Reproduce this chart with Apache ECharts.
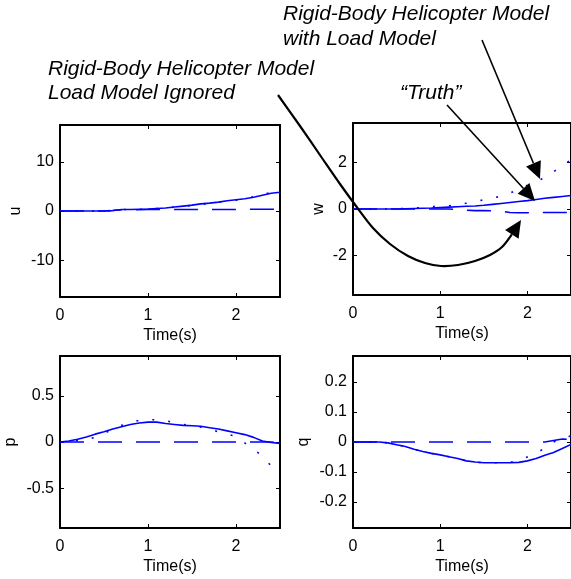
<!DOCTYPE html>
<html>
<head>
<meta charset="utf-8">
<script src="https://cdn.jsdelivr.net/npm/echarts@6/dist/echarts.min.js"></script>
<style>
html,body{margin:0;padding:0;background:#fff;}
#chart{width:571px;height:579px;}
</style>
</head>
<body>
<div id="chart"></div>
<script>
// ---- data ----
const time = [0,0.1,0.2,0.3,0.4,0.5,0.6,0.7,0.8,0.9,1.0,1.1,1.2,1.3,1.4,1.5,1.6,1.7,1.8,1.9,2.0,2.1,2.2,2.3,2.4,2.5];
const xTicks = [0,1,2];

const uTruth    = [0,0,0,0,0,0,0.1,0.3,0.3,0.35,0.4,0.5,0.6,0.8,1.0,1.2,1.45,1.6,1.8,2.1,2.3,2.5,2.8,3.2,3.6,3.8];
const uWithLoad = [0,0,0,0,0,0,0.1,0.3,0.3,0.35,0.4,0.5,0.6,0.8,0.95,1.1,1.3,1.55,1.8,2.0,2.2,2.5,2.9,3.3,3.8,4.0];
const uIgnored  = [0,0,0,0,0,0,0.1,0.25,0.25,0.25,0.3,0.3,0.3,0.3,0.3,0.3,0.3,0.3,0.3,0.3,0.3,0.35,0.35,0.35,0.35,0.35];
const uTicks = [-10,0,10];

const wTruth    = [0,0,0,0,0,0,0.01,0.02,0.03,0.04,0.06,0.08,0.1,0.12,0.13,0.16,0.2,0.24,0.28,0.32,0.36,0.41,0.46,0.5,0.54,0.58];
const wWithLoad = [0,0,0,0,0,0.01,0.02,0.04,0.07,0.1,0.12,0.14,0.17,0.25,0.32,0.4,0.47,0.55,0.68,0.86,1.02,1.18,1.35,1.6,1.88,2.1];
const wIgnored  = [0,0,0,0,0,0,0,0,0,0,0,0,-0.03,-0.05,-0.07,-0.07,-0.08,-0.1,-0.15,-0.16,-0.16,-0.16,-0.15,-0.15,-0.15,-0.15];
const wTicks = [-2,0,2];

const pTruth    = [0,0.01,0.03,0.055,0.085,0.11,0.14,0.165,0.19,0.205,0.215,0.215,0.2,0.19,0.18,0.175,0.17,0.155,0.14,0.12,0.1,0.08,0.05,0.01,-0.005,-0.015];
const pWithLoad = [0,0.005,0.015,0.03,0.05,0.09,0.14,0.18,0.21,0.235,0.24,0.24,0.23,0.21,0.19,0.175,0.16,0.14,0.11,0.085,0.06,-0.01,-0.08,-0.15,-0.26,-0.34];
const pIgnored  = [0,0,0,0,0,0,0,0,0,0,0,0,0,0,0,0,0,0,0,0,0,0,0,0,0,-0.01];
const pTicks = [-0.5,0,0.5];

const qTruth    = [0,0,0,0,-0.003,-0.009,-0.015,-0.024,-0.032,-0.038,-0.043,-0.049,-0.055,-0.063,-0.067,-0.069,-0.069,-0.069,-0.069,-0.068,-0.063,-0.055,-0.044,-0.035,-0.022,-0.008];
const qWithLoad = [0,0,0,0,-0.003,-0.009,-0.015,-0.024,-0.032,-0.038,-0.043,-0.049,-0.055,-0.063,-0.067,-0.069,-0.069,-0.069,-0.068,-0.062,-0.05,-0.038,-0.02,0.0,0.015,0.02];
const qIgnored  = [0,0,0,0,0,0,0,0,0,0,0,0,0,0,0,0,0,0,0,0,0,0,0,0.005,0.01,0.008];
const qTicks = [-0.2,-0.1,0,0.1,0.2];

const yNames = ['u','w','p','q'];
const xName = 'Time(s)';

// ---- layout ----
const FONT = 'Liberation Sans';
const FS = 16;
const grids = [
  {left:60, top:125, width:220, height:172},
  {left:353, top:123, width:220, height:172},
  {left:60, top:356, width:220, height:172},
  {left:353, top:356, width:220, height:172}
];
const yRanges = [[-17.5,17.5],[-3.7,3.7],[-0.93,0.93],[-0.287,0.287]];
const yTickSets = [uTicks,wTicks,pTicks,qTicks];
const yNameGaps = [36,26,41,41];
const seriesSets = [
  [uTruth,uWithLoad,uIgnored],
  [wTruth,wWithLoad,wIgnored],
  [pTruth,pWithLoad,pIgnored],
  [qTruth,qWithLoad,qIgnored]
];

const lineBase = {color:'#000', width:2};
const xAxes = [], yAxes = [], series = [];
for (let i=0;i<4;i++){
  xAxes.push({
    type:'value', gridIndex:i, position:'bottom', min:0, max:2.5,
    axisLine:{show:true, onZero:false, lineStyle:lineBase},
    axisTick:{show:true, inside:true, length:4, customValues:xTicks, lineStyle:{color:'#000',width:1}},
    axisLabel:{show:true, customValues:xTicks, margin:11, color:'#000', fontSize:FS, fontFamily:FONT},
    splitLine:{show:false},
    name:xName, nameLocation:'middle', nameGap:31,
    nameTextStyle:{color:'#000', fontSize:FS, fontFamily:FONT}
  });
  xAxes.push({
    type:'value', gridIndex:i, position:'top', min:0, max:2.5,
    axisLine:{show:true, onZero:false, lineStyle:lineBase},
    axisTick:{show:true, inside:true, length:4, customValues:xTicks, lineStyle:{color:'#000',width:1}},
    axisLabel:{show:false}, splitLine:{show:false}
  });
  yAxes.push({
    type:'value', gridIndex:i, position:'left', min:yRanges[i][0], max:yRanges[i][1],
    axisLine:{show:true, onZero:false, lineStyle:lineBase},
    axisTick:{show:true, inside:true, length:4, customValues:yTickSets[i], lineStyle:{color:'#000',width:1}},
    axisLabel:{show:true, customValues:yTickSets[i], margin:6, color:'#000', fontSize:FS, fontFamily:FONT},
    splitLine:{show:false},
    name:yNames[i], nameLocation:'middle', nameGap:yNameGaps[i], nameRotate:90,
    nameTextStyle:{color:'#000', fontSize:FS, fontFamily:FONT}
  });
  yAxes.push({
    type:'value', gridIndex:i, position:'right', min:yRanges[i][0], max:yRanges[i][1],
    axisLine:{show:true, onZero:false, lineStyle:lineBase},
    axisTick:{show:true, inside:true, length:4, customValues:yTickSets[i], lineStyle:{color:'#000',width:1}},
    axisLabel:{show:false}, splitLine:{show:false}
  });
  const styles = [
    {type:'solid'},
    {type:[2,14]},
    {type:[24,14]}
  ];
  const names = ['Truth','With Load Model','Load Model Ignored'];
  seriesSets[i].forEach((arr,k)=>{
    series.push({
      type:'line', name:names[k], xAxisIndex:2*i, yAxisIndex:2*i,
      data: time.map((t,j)=>[t,arr[j]]),
      showSymbol:false, symbol:'none', silent:true,
      lineStyle:Object.assign({color:'#0000ff', width:1.6}, styles[k]),
      z: 3-k
    });
  });
}

// ---- annotations ----
function arrowHead(from, tip, len, hw){
  const dx = tip[0]-from[0], dy = tip[1]-from[1];
  const L = Math.hypot(dx,dy); const ux=dx/L, uy=dy/L;
  const bx = tip[0]-len*ux, by = tip[1]-len*uy;
  return {base:[bx,by], pts:[tip,[bx-hw*uy, by+hw*ux],[bx+hw*uy, by-hw*ux]]};
}
const aFont = 'italic 21px "Liberation Sans"';
const truthArrow = arrowHead([447,105],[535,201],17,8);
const loadArrow = arrowHead([482,40],[540,179],17,8);
const curvePts = [[278,95],[300,126],[322,158],[340,184],[356,206],[373,228],[390,244],[408,256],[425,263],[441,266],[458,265],[475,261],[490,255],[502,247]];
const ignArrow = arrowHead([505,245],[521,220],17,8);
curvePts.push(ignArrow.base);

const graphic = [
  {type:'text', style:{text:'Rigid-Body Helicopter Model', x:283, y:14.5, font:aFont, fill:'#000', verticalAlign:'middle'}, z:100},
  {type:'text', style:{text:'with Load Model', x:283, y:39.5, font:aFont, fill:'#000', verticalAlign:'middle'}, z:100},
  {type:'text', style:{text:'Rigid-Body Helicopter Model', x:48, y:69.5, font:aFont, fill:'#000', verticalAlign:'middle'}, z:100},
  {type:'text', style:{text:'Load Model Ignored', x:48, y:93, font:aFont, fill:'#000', verticalAlign:'middle'}, z:100},
  {type:'text', style:{text:'\u201CTruth\u201D', x:400, y:93, font:aFont, fill:'#000', verticalAlign:'middle'}, z:100},
  {type:'line', shape:{x1:447,y1:105,x2:truthArrow.base[0],y2:truthArrow.base[1]}, style:{stroke:'#000', lineWidth:1.6}, z:100},
  {type:'polygon', shape:{points:truthArrow.pts}, style:{fill:'#000'}, z:100},
  {type:'line', shape:{x1:482,y1:40,x2:loadArrow.base[0],y2:loadArrow.base[1]}, style:{stroke:'#000', lineWidth:1.6}, z:100},
  {type:'polygon', shape:{points:loadArrow.pts}, style:{fill:'#000'}, z:100},
  {type:'polyline', shape:{points:curvePts, smooth:0.3}, style:{stroke:'#000', lineWidth:2.2, fill:null}, z:100},
  {type:'polygon', shape:{points:ignArrow.pts}, style:{fill:'#000'}, z:100}
];

const chart = echarts.init(document.getElementById('chart'), null, {renderer:'canvas'});
chart.setOption({
  animation:false,
  backgroundColor:'#fff',
  grid: grids.map(g=>Object.assign({containLabel:false, show:false}, g)),
  xAxis: xAxes,
  yAxis: yAxes,
  series: series,
  graphic: graphic
});
</script>
</body>
</html>
